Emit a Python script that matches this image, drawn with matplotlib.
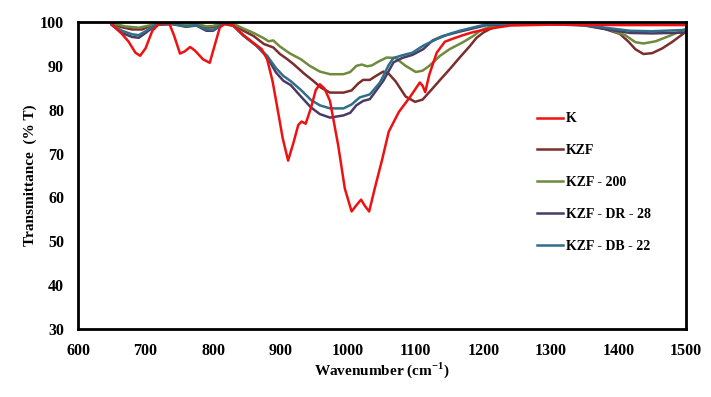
import matplotlib
matplotlib.use("Agg")
import matplotlib.pyplot as plt

k_wn = [650, 660, 665, 675, 685, 692, 700, 710, 720, 735, 742, 751, 758, 766, 773, 785,
        795, 802, 810, 818, 830, 845, 860, 872, 880, 888, 895, 903, 911, 919, 926, 931,
        937, 945, 952, 958, 965, 973, 985, 995, 1005, 1012, 1019, 1025, 1031, 1040, 1050,
        1060, 1075, 1091, 1106, 1110, 1114, 1120, 1131, 1143, 1155, 1170, 1185, 1210, 1240,
        1300, 1400, 1500]
k_t = [99.5, 98.0, 97.3, 95.5, 93.0, 92.3, 94.0, 98.0, 99.6, 99.7, 97.0, 92.8, 93.3, 94.3,
       93.5, 91.5, 90.7, 94.5, 98.8, 99.6, 99.2, 97.0, 95.2, 93.8, 91.5, 86.5, 80.5, 73.5,
       68.4, 72.5, 76.5, 77.3, 76.8, 80.5, 84.5, 85.8, 84.8, 82.0, 72.0, 62.0, 56.8, 58.2,
       59.5, 58.0, 56.8, 62.5, 68.5, 75.0, 79.5, 82.8, 86.2, 85.5, 84.0, 88.0, 93.0, 95.5,
       96.2, 97.0, 97.7, 98.5, 99.2, 99.4, 99.3, 99.3]

kzf_wn = [650, 665, 680, 695, 705, 720, 740, 760, 775, 790, 800, 815, 830, 845, 860, 875,
          889, 899, 910, 919, 935, 948, 960, 973, 993, 1005, 1015, 1022, 1032, 1042, 1052,
          1060, 1070, 1085, 1099, 1110, 1120, 1136, 1150, 1165, 1180, 1190, 1200, 1210, 1225,
          1250, 1300, 1350, 1380, 1402, 1415, 1425, 1437, 1450, 1465, 1480, 1500]
kzf_t = [99.5, 98.8, 98.3, 98.3, 99.0, 99.6, 99.6, 99.2, 99.4, 98.7, 98.8, 99.8, 99.4, 98.0,
         96.8, 95.0, 94.2, 92.7, 91.5, 90.4, 88.2, 86.6, 85.0, 83.9, 83.9, 84.4, 86.0, 86.8,
         86.8, 87.8, 88.7, 88.2, 86.5, 83.0, 81.8, 82.3, 84.0, 86.8, 89.2, 91.9, 94.5, 96.4,
         97.6, 98.4, 99.3, 99.6, 99.6, 99.3, 98.4, 97.3, 95.5, 93.8, 92.7, 92.9, 94.0, 95.5,
         97.8]

kzf200_wn = [650, 670, 690, 705, 720, 760, 775, 790, 800, 815, 830, 845, 860, 875, 882, 889,
             899, 914, 930, 943, 958, 973, 993, 1003, 1012, 1020, 1028, 1035, 1045, 1057,
             1070, 1085, 1100, 1110, 1120, 1136, 1150, 1170, 1185, 1195, 1210, 1230, 1300,
             1350, 1380, 1410, 1425, 1437, 1455, 1475, 1500]
kzf200_t = [99.7, 99.0, 98.7, 99.2, 99.7, 99.4, 99.6, 99.0, 99.1, 99.9, 99.6, 98.5, 97.5,
            96.3, 95.6, 95.8, 94.4, 92.8, 91.5, 90.0, 88.7, 88.1, 88.1, 88.6, 90.0, 90.3,
            89.9, 90.1, 91.0, 91.9, 91.8, 90.0, 88.6, 88.9, 90.0, 92.3, 93.8, 95.4, 96.8,
            98.0, 99.0, 99.6, 99.7, 99.4, 98.6, 97.0, 95.4, 95.1, 95.6, 96.8, 98.4]

dr28_wn = [650, 665, 680, 690, 700, 715, 740, 760, 775, 790, 800, 815, 830, 845, 864, 880,
           893, 904, 915, 930, 945, 958, 973, 993, 1003, 1012, 1022, 1032, 1042, 1052, 1067,
           1080, 1095, 1111, 1125, 1140, 1165, 1205, 1250, 1300, 1350, 1380, 1417, 1450, 1500]
dr28_t = [99.3, 97.5, 96.6, 96.4, 97.5, 99.3, 99.5, 98.9, 99.2, 98.0, 98.0, 99.6, 99.1, 96.9,
          94.6, 92.0, 88.5, 86.6, 85.6, 83.0, 80.5, 79.0, 78.2, 78.7, 79.3, 81.0, 82.0, 82.4,
          84.5, 86.6, 90.8, 91.8, 92.5, 93.8, 95.8, 96.8, 97.8, 99.3, 99.5, 99.5, 99.2, 98.4,
          97.5, 97.4, 97.6]

db22_wn = [650, 665, 680, 690, 700, 715, 740, 760, 775, 790, 800, 815, 830, 845, 864, 880,
           893, 904, 915, 930, 945, 958, 973, 993, 1005, 1017, 1032, 1047, 1060, 1067, 1080,
           1095, 1111, 1131, 1150, 1165, 1205, 1250, 1300, 1350, 1380, 1417, 1450, 1500]
db22_t = [99.4, 98.0, 97.2, 97.0, 97.9, 99.4, 99.6, 99.0, 99.3, 98.3, 98.2, 99.7, 99.2, 96.9,
          94.6, 92.3, 89.5, 87.7, 86.5, 84.5, 82.2, 81.0, 80.3, 80.3, 81.2, 82.8, 83.5, 86.2,
          90.2, 91.8, 92.4, 93.0, 94.6, 96.1, 97.3, 98.0, 99.5, 99.6, 99.6, 99.3, 98.7, 98.0,
          97.9, 98.2]

labels = ["K", "KZF", "KZF - 200", "KZF - DR - 28", "KZF - DB - 22"]
colors = ["#ee1111", "#7b2e2e", "#6f8a3c", "#4a3b66", "#2f6f8a"]

plt.rcParams['font.family'] = ['Liberation Serif', 'DejaVu Serif']
plt.rcParams['font.weight'] = 'bold'
plt.rcParams['mathtext.fontset'] = 'custom'
plt.rcParams['mathtext.rm'] = 'Liberation Serif:bold'

fig = plt.figure(figsize=(7.11, 3.97), dpi=100)
ax = fig.add_axes([78 / 711, 1 - 329 / 397, 608 / 711, 307 / 397])

series = [(k_wn, k_t), (kzf_wn, kzf_t), (kzf200_wn, kzf200_t), (dr28_wn, dr28_t), (db22_wn, db22_t)]
# draw K last so it sits on top, like the original
order = [1, 2, 3, 4, 0]
lines = {}
for i in order:
    x, y = series[i]
    lines[i], = ax.plot(x, y, color=colors[i], lw=1.8, label=labels[i])

ax.set_xlim(600, 1500)
ax.set_ylim(30, 100)
ax.set_xticks(range(600, 1501, 100))
ax.set_yticks(range(30, 101, 10))
ax.tick_params(length=0, labelsize=11.5)
ax.tick_params(axis='x', pad=10)
ax.tick_params(axis='y', pad=10)
for lab in ax.get_xticklabels() + ax.get_yticklabels():
    lab.set_fontweight('bold')
for sp in ax.spines.values():
    sp.set_linewidth(2)

ax.set_xlabel("Wavenumber (cm$^{-1}$)", fontsize=11, fontweight='bold', labelpad=1)
ax.set_ylabel("Transmittance  (% T)", fontsize=11, fontweight='bold', labelpad=2)

ax.legend([lines[i] for i in range(5)], labels, loc='upper left',
          bbox_to_anchor=(524 / 711, 1 - 100 / 397), bbox_transform=fig.transFigure,
          frameon=False, handlelength=1.9, handletextpad=0.2,
          labelspacing=1.35, prop={'weight': 'bold', 'size': 10})

fig.savefig("out.png", dpi=100)
